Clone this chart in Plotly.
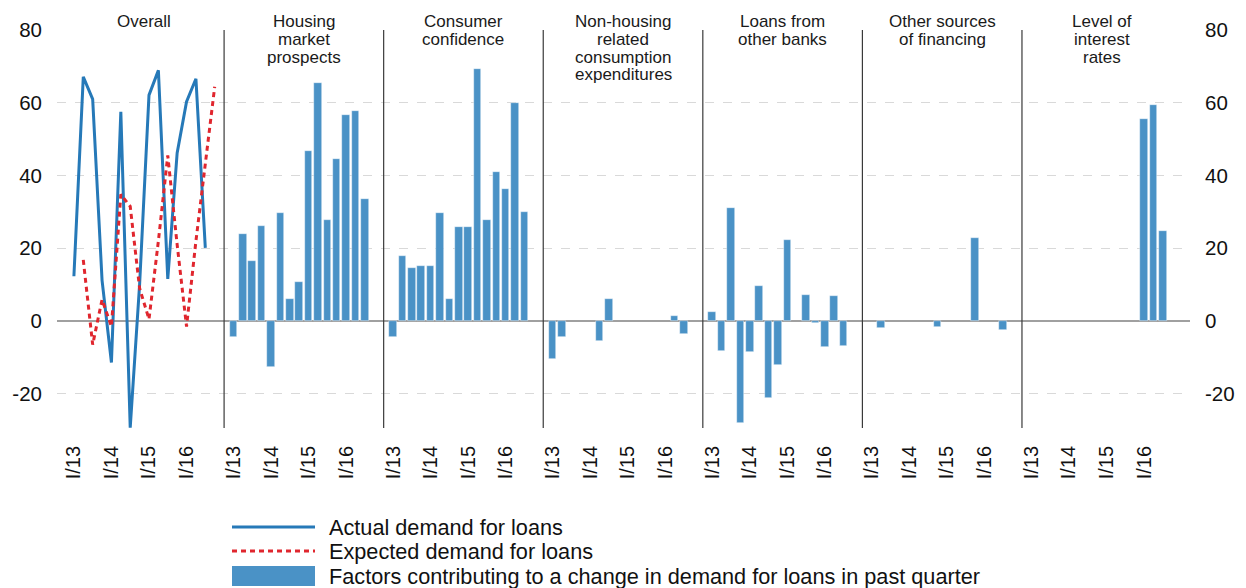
import plotly.graph_objects as go

# ---------------- data ----------------
quarters = ["I/13", "II/13", "III/13", "IV/13",
            "I/14", "II/14", "III/14", "IV/14",
            "I/15", "II/15", "III/15", "IV/15",
            "I/16", "II/16", "III/16", "IV/16"]

panel_titles = ["Overall",
                "Housing<br>market<br>prospects",
                "Consumer<br>confidence",
                "Non-housing<br>related<br>consumption<br>expenditures",
                "Loans from<br>other banks",
                "Other sources<br>of financing",
                "Level of<br>interest<br>rates"]

actual_demand = [12.3, 67.1, 61.0, 11.2, -11.4, 57.5, -29.3, 10.0,
                 62.1, 68.9, 11.6, 46.2, 60.3, 66.6, 20.1, None]
expected_demand = [None, 16.8, -6.5, 5.9, -1.5, 34.8, 31.5, 9.0,
                   0.5, 22.0, 45.5, 21.0, -1.5, 22.0, 44.0, 64.4]

housing_market = [-4.5, 23.9, 16.6, 26.0, -12.7, 29.6, 6.0, 10.7,
                  46.8, 65.3, 27.8, 44.6, 56.5, 57.7, 33.6, None]
consumer_confidence = [-4.5, 17.8, 14.6, 15.0, 15.2, 29.6, 6.0, 25.8,
                       25.8, 69.3, 27.8, 40.9, 36.2, 59.8, 30.0, None]
non_housing = [-10.5, -4.5, None, None, None, -5.6, 6.0, None,
               None, None, None, None, None, 1.5, -3.5, None]
loans_other_banks = [2.5, -8.2, 31.1, -27.9, -8.6, 9.5, -21.1, -12.1,
                     22.3, None, 7.1, -0.4, -7.2, 6.9, -6.8, None]
other_sources = [None, -1.8, None, None, None, None, None, -1.5,
                 None, None, None, 22.9, None, None, -2.5, None]
interest_rates = [None, None, None, None, None, None, None, None,
                  None, None, None, None, 55.5, 59.4, 24.7, None]

factor_panels = [housing_market, consumer_confidence, non_housing,
                 loans_other_banks, other_sources, interest_rates]

name_actual = "Actual demand for loans"
name_expected = "Expected demand for loans"
name_factors = "Factors contributing to a change in demand for loans in past quarter"

y_ticks = [-20, 0, 20, 40, 60, 80]
y_ticktext = [str(v) for v in y_ticks]
grid_ticks = [-20, 20, 40, 60]

# ---------------- layout constants ----------------
PAGE_OFF = 8                        # default body margin of the html page
W, H = 1246 - PAGE_OFF, 588 - PAGE_OFF
# plot area in screen pixels
SPL, SPR, SPT, SPB = 57, 1190, 30, 428
PL, PR, PT, PB = SPL - PAGE_OFF, SPR - PAGE_OFF, SPT - PAGE_OFF, SPB - PAGE_OFF
SLOTS = len(quarters) + 1           # 16 quarters + 1 gap slot per panel
FONT = "Liberation Sans, Arial, sans-serif"
BLUE_LINE = "#2679B8"
BAR_BLUE = "#4A92C6"
RED = "#E0262E"
Y_RANGE = [-29.4, 80]
X_RANGE = [-1.8, 6 * SLOTS + 15 + 1.9]


def py2paper(screen_py):
    return (SPB - screen_py) / (SPB - SPT)


def px2paper(screen_px):
    return (screen_px - SPL) / (SPR - SPL)


fig = go.Figure()

# bars for the six factor panels
bx, by = [], []
for p, vals in enumerate(factor_panels, start=1):
    for q, v in enumerate(vals):
        bx.append(p * SLOTS + q)
        by.append(v)
fig.add_trace(go.Bar(x=bx, y=by, width=0.8, name=name_factors,
                     marker=dict(color=BAR_BLUE,
                                 line=dict(color="rgba(255,255,255,0.7)", width=0.6)),
                     showlegend=False))

# overall panel lines
qx = list(range(len(quarters)))
fig.add_trace(go.Scatter(x=qx, y=actual_demand, mode="lines", name=name_actual,
                         line=dict(color=BLUE_LINE, width=3), showlegend=False))
fig.add_trace(go.Scatter(x=qx, y=expected_demand, mode="lines", name=name_expected,
                         line=dict(color=RED, width=3, dash="5px,4px"), showlegend=False))

# helper traces so the overlay axes are drawn
for ax in ["y2", "y3"]:
    fig.add_trace(go.Scatter(x=[0], y=[0], yaxis=ax, mode="markers",
                             marker=dict(opacity=0), showlegend=False, hoverinfo="skip"))

# x ticks
tickvals, ticktext = [], []
for p in range(len(panel_titles)):
    for q in range(0, len(quarters), 4):
        tickvals.append(p * SLOTS + q)
        ticktext.append(quarters[q])

shapes = []
# panel separators
for p in range(1, len(panel_titles)):
    xs = p * SLOTS - 1
    shapes.append(dict(type="line", xref="x", yref="paper", x0=xs, x1=xs, y0=0, y1=1,
                       line=dict(color="#3a3a3a", width=1.2)))

annotations = []
# panel titles
for p, t in enumerate(panel_titles):
    for i, line in enumerate(t.split("<br>")):
        annotations.append(dict(x=p * SLOTS + 7.5, xref="x",
                                y=py2paper(22 + i * 17.5), yref="paper",
                                text=line, showarrow=False, xanchor="center",
                                yanchor="middle",
                                font=dict(family=FONT, size=17, color="#1a1a1a")))

# custom legend
leg_rows = [527, 551, 576]
sx0, sx1, tx = 232, 315, 327
shapes.append(dict(type="line", xref="paper", yref="paper",
                   x0=px2paper(sx0), x1=px2paper(sx1),
                   y0=py2paper(leg_rows[0]), y1=py2paper(leg_rows[0]),
                   line=dict(color=BLUE_LINE, width=3)))
shapes.append(dict(type="line", xref="paper", yref="paper",
                   x0=px2paper(sx0), x1=px2paper(sx1),
                   y0=py2paper(leg_rows[1]), y1=py2paper(leg_rows[1]),
                   line=dict(color=RED, width=3, dash="5px,4px")))
shapes.append(dict(type="rect", xref="paper", yref="paper",
                   x0=px2paper(sx0), x1=px2paper(sx1),
                   y0=py2paper(leg_rows[2] + 10), y1=py2paper(leg_rows[2] - 10),
                   line=dict(width=0), fillcolor=BAR_BLUE))
for row, nm in zip(leg_rows, [name_actual, name_expected, name_factors]):
    annotations.append(dict(x=px2paper(tx), xref="paper", y=py2paper(row), yref="paper",
                            text=nm, showarrow=False, xanchor="left", yanchor="middle",
                            font=dict(family=FONT, size=21.7, color="#111")))

fig.update_layout(
    width=W, height=H,
    margin=dict(l=PL, r=W - PR, t=PT, b=H - PB, autoexpand=False),
    paper_bgcolor="white", plot_bgcolor="white",
    font=dict(family=FONT, size=20, color="#111"),
    showlegend=False,
    bargap=0,
    xaxis=dict(range=X_RANGE, tickmode="array", tickvals=tickvals, ticktext=ticktext,
               tickangle=-90, ticks="", ticklabelstandoff=13, showgrid=False,
               zeroline=False, showline=False, tickfont=dict(size=20), automargin=False),
    yaxis=dict(range=Y_RANGE, tickmode="array", tickvals=y_ticks, ticktext=y_ticktext,
               showgrid=False, zeroline=True, zerolinecolor="#A0A0A0", zerolinewidth=2,
               ticks="", ticklabelstandoff=14, tickfont=dict(size=20.5), automargin=False),
    yaxis2=dict(range=Y_RANGE, overlaying="y", side="right", tickmode="array",
                tickvals=y_ticks, ticktext=y_ticktext, showgrid=False, zeroline=False,
                ticks="", ticklabelstandoff=14, tickfont=dict(size=20.5), automargin=False),
    yaxis3=dict(range=Y_RANGE, overlaying="y", side="left", tickmode="array",
                tickvals=grid_ticks, showgrid=True, gridcolor="#D9D9D9", gridwidth=1,
                griddash="dash", showticklabels=False, zeroline=False, ticks="",
                automargin=False),
    shapes=shapes,
    annotations=annotations,
)

fig.write_html("out.html")
